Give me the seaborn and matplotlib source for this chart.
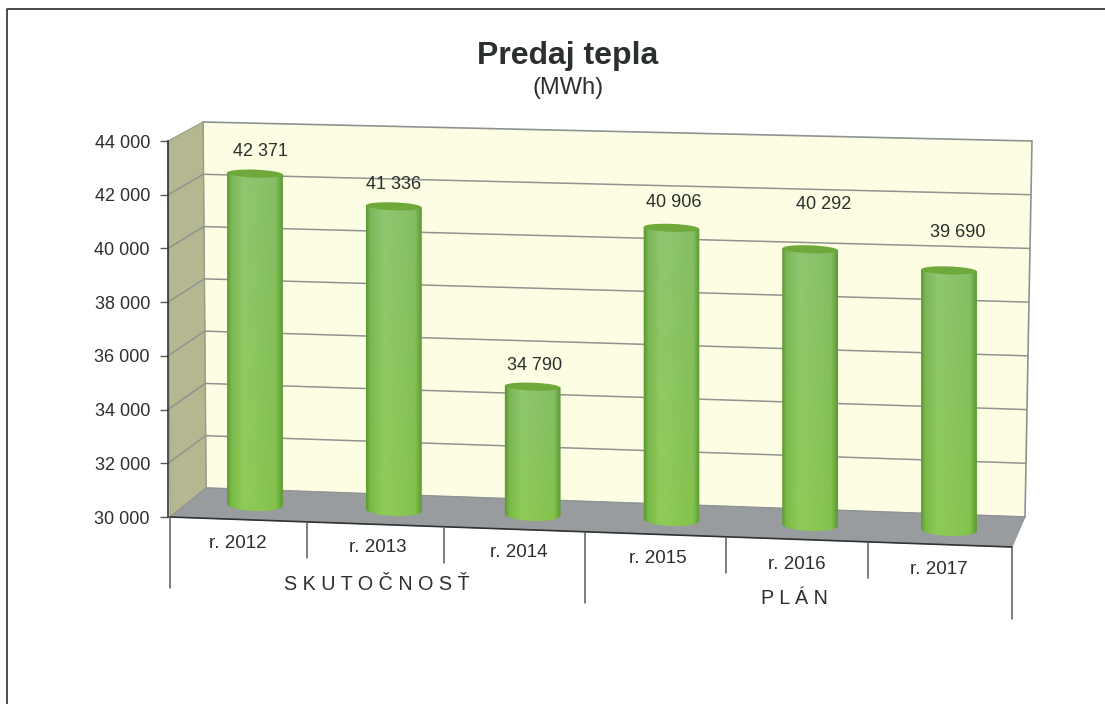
import numpy as np
import seaborn as sns
import matplotlib
matplotlib.use("Agg")
import matplotlib.pyplot as plt
from matplotlib.patches import Ellipse, Polygon
from matplotlib.path import Path
from matplotlib.transforms import Affine2D, offset_copy

# data
years = ["r. 2012", "r. 2013", "r. 2014", "r. 2015", "r. 2016", "r. 2017"]
values = [42371, 41336, 34790, 40906, 40292, 39690]
value_labels = ["42 371", "41 336", "34 790", "40 906", "40 292", "39 690"]
y_ticks = [30000, 32000, 34000, 36000, 38000, 40000, 42000, 44000]
y_labels = ["30 000", "32 000", "34 000", "36 000", "38 000", "40 000", "42 000", "44 000"]
groups = ["S K U T O Č N O S Ť", "P L Á N"]

# label offsets in pixels, the picture is a bit uneven here
label_dx = [5, 0, 2, 2, 13, 9]
label_dy = [22, 22, 21, 25, 45, 38]
year_dx = [-17, -16, -14, -14, -13, -10]
year_dy = [-38, -38, -38, -39, -40, -40]

W, H = 1105, 704
SLOPE = 0.036   # scan + perspective tilt
PIVOT = 255
PX = 375 / 14000  # pixels per MWh

sns.set_theme(style="white")
plt.rcParams["font.family"] = ["Liberation Sans", "DejaVu Sans"]
TXT = "#2b2f2d"

fig = plt.figure(figsize=(W / 100, H / 100), dpi=100, facecolor="white")


def px_axes(left, top, right, bottom):
    return fig.add_axes([left / W, 1 - bottom / H, (right - left) / W, (bottom - top) / H])


# background: frame, walls, floor, grid (pixel coordinates)
bg = px_axes(0, 0, W, H)
bg.set_xlim(0, W)
bg.set_ylim(H, 0)
bg.axis("off")
bg.plot([7, 7, W], [H, 9, 9], color="#3a3f3f", lw=1.3)

bg.add_patch(Polygon([(203, 122), (1032, 141), (1025, 517), (206, 488)], fc="#fcfde2", ec="#8d9293", lw=1.2))
bg.add_patch(Polygon([(168, 141), (203, 122), (206, 488), (170, 517)], fc="#b4b78f", ec="#9a9d85", lw=0.8))
bg.add_patch(Polygon([(170, 517), (206, 488), (1025, 517), (1012, 547)], fc="#989c9e", ec="#8d9293", lw=0.6))
bg.plot([170, 1012], [517, 547], color="#2f3333", lw=1.2)

for v in y_ticks[1:-1]:
    f = (44000 - v) / 14000
    y_a, y_b, y_c = 141 + 376 * f, 122 + 366 * f, 141 + 376 * f
    x_b, x_c = 203 + 3 * f, 1032 - 7 * f
    bg.plot([168, x_b, x_c], [y_a, y_b, y_c], color="#8f9490", lw=1.1)

# separators under the floor
bg.plot([170, 170], [517, 588], color="#555a5a", lw=1.1)
bg.plot([1012, 1012], [547, 619], color="#555a5a", lw=1.1)
bg.plot([585, 585], [532, 603], color="#555a5a", lw=1.1)
for x, y0 in zip([307, 444, 726, 868], [523, 528, 538, 543]):
    bg.plot([x, x], [y0, y0 + 35], color="#555a5a", lw=1.1)

bg.text(568, 56, "Predaj tepla", ha="center", va="center", fontsize=23, fontweight="bold", color=TXT)
bg.text(568, 88, "(MWh)", ha="center", va="center", fontsize=17, color=TXT)
bg.text(377, 585, groups[0], ha="center", va="center", fontsize=14.2, color=TXT)
bg.text(794, 599, groups[1], ha="center", va="center", fontsize=14.2, color=TXT)

# y axis on the front left edge
ax_y = px_axes(168, 141, 169, 517)
ax_y.set_ylim(30000, 44000)
ax_y.set_xticks([])
ax_y.set_yticks(y_ticks)
ax_y.set_yticklabels(y_labels, fontsize=13, color=TXT)
ax_y.tick_params(axis="y", left=True, length=6, width=1, color="#555a5a", pad=7)
sns.despine(ax=ax_y, right=True, top=True, bottom=True)
ax_y.spines["left"].set_color("#2f3333")
ax_y.spines["left"].set_linewidth(1.2)
ax_y.patch.set_visible(False)

# bars: category axis, tilted in display space
x_step = 138.8
ax = px_axes(PIVOT - 0.5 * x_step, 505 - (45000 - 30000) * PX, PIVOT + 5.5 * x_step, 505 + 2000 * PX)
ax.set_zorder(3)
sns.barplot(x=years, y=values, width=0.4, color="#6fae45", ax=ax)
ax.set_xlim(-0.5, 5.5)
ax.set_ylim(28000, 45000)
ax.axis("off")

fig.canvas.draw()
skew = Affine2D(np.array([[1, 0, 0], [-SLOPE, 1, SLOPE * PIVOT], [0, 0, 1]]))
trans = ax.transData + skew

# cylinder shading
edge = np.array([0.36, 0.61, 0.21])
mid = np.array([0.56, 0.78, 0.44])
low = np.array([0.56, 0.80, 0.34])
pos = np.linspace(0, 1, 48)
shade = np.interp(pos, [0, 0.07, 0.3, 0.88, 1], [0, 0.6, 1, 0.8, 0])
cols = edge + shade[:, None] * (mid - edge)
grad = np.stack([cols + t * (low - mid) * (0.3 + 0.7 * shade[:, None]) for t in np.linspace(0, 1, 24)])

BOTTOM_H = 12 / PX
TOP_H = 8 / PX
for i, (bar, v) in enumerate(zip(ax.patches, values)):
    bar.set_y(30000)
    bar.set_height(v - 30000)
    bar.set_transform(trans)
    bar.set_linewidth(0)
    x0, w = bar.get_x(), bar.get_width()

    outline = Path.make_compound_path(
        Path([(x0, 30000), (x0 + w, 30000), (x0 + w, v), (x0, v), (x0, 30000)], closed=True),
        Path.unit_circle().transformed(Affine2D().scale(w / 2, BOTTOM_H / 2).translate(x0 + w / 2, 30000)),
    )
    im = ax.imshow(grad, extent=[x0, x0 + w, 30000 - BOTTOM_H, v], aspect="auto", origin="upper",
                   interpolation="bilinear", zorder=3)
    im.set_transform(trans)
    im.set_clip_path(outline, transform=trans)

    ax.add_patch(Ellipse((x0 + w / 2, v), w, TOP_H, fc="#6fa93c", ec="none", transform=trans, zorder=4))

    ax.text(i, v, value_labels[i], ha="center", va="center", fontsize=13, color=TXT,
            transform=offset_copy(trans, fig=fig, x=label_dx[i], y=label_dy[i], units="dots"))
    ax.text(i, 30000, years[i], ha="center", va="center", fontsize=13.5, color=TXT,
            transform=offset_copy(trans, fig=fig, x=year_dx[i], y=year_dy[i], units="dots"))

ax.set_xlim(-0.5, 5.5)
ax.set_ylim(28000, 45000)

fig.savefig("out.png", dpi=100)
